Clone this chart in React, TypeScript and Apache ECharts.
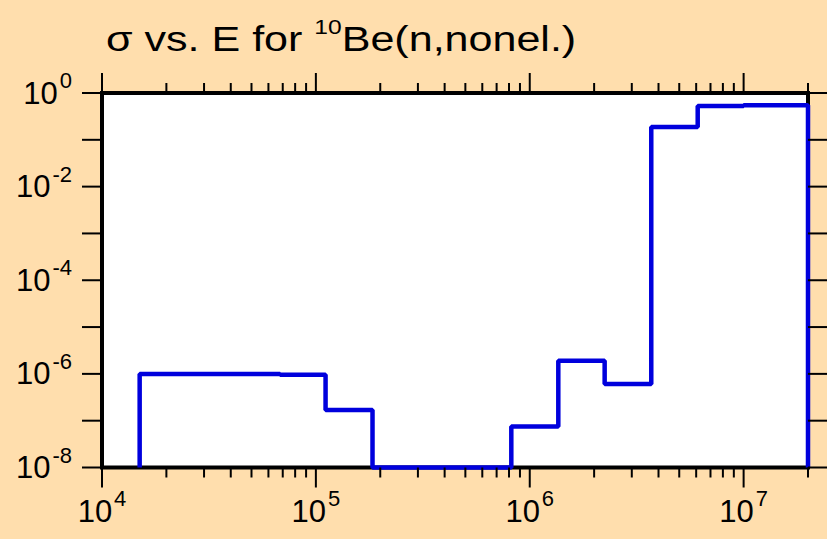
import React, { useEffect, useRef } from "react";
import * as echarts from "echarts";

// Bin edges (eV) and cross-section values (b) for each bin
const binEdges = [1.5e4, 6.8e4, 1.11e5, 1.84e5, 8.2e5, 1.36e6, 2.24e6, 3.7e6, 6.1e6, 1.0e7, 2.0e7];
const binValues = [1.0e-6, 9.6e-7, 1.7e-7, 1.0e-8, 7.5e-8, 1.9e-6, 6.1e-7, 0.187, 0.53, 0.55];

const X_MIN = 1e4;
const X_MAX = 2e7;
const Y_MIN = 1e-8;
const Y_MAX = 1;

// tick values
const xMajorTicks = [1e4, 1e5, 1e6, 1e7];
const xMinorMultipliers = [2, 3, 4, 5, 6, 7, 8, 9];
const yTicks = [1e-8, 1e-7, 1e-6, 1e-5, 1e-4, 1e-3, 1e-2, 1e-1, 1];

const TITLE_MAIN_1 = "σ vs. E for ";
const TITLE_SUP = "10";
const TITLE_MAIN_2 = "Be(n,nonel.)";

const FONT = "'Liberation Sans', Arial, Helvetica, sans-serif";

export default function App() {
  const ref = useRef<HTMLDivElement>(null);

  useEffect(() => {
    document.body.style.margin = "0";
    if (!ref.current) return;
    const chart = echarts.init(ref.current, null, { renderer: "svg" });

    // step line points
    const stepData: number[][] = [[binEdges[0], Y_MIN]];
    for (let i = 0; i < binValues.length; i++) stepData.push([binEdges[i], binValues[i]]);
    stepData.push([binEdges[binEdges.length - 1], binValues[binValues.length - 1]]);
    stepData.push([binEdges[binEdges.length - 1], Y_MIN]);

    const xTickData: number[][] = [];
    xMajorTicks.forEach((t) => {
      xTickData.push([t, Y_MIN, 20]);
      xMinorMultipliers.forEach((m) => {
        const v = t * m;
        if (v <= X_MAX * 1.0001) xTickData.push([v, Y_MIN, 10]);
      });
    });
    const yTickData = yTicks.map((t) => [X_MIN, t, 20]);

    const isPow = (v: number) => Math.abs(Math.log10(v) - Math.round(Math.log10(v))) < 1e-6;
    const labelRich = {
      b: { fontSize: 31, fontFamily: FONT, color: "#000", lineHeight: 47, verticalAlign: "middle" },
      s: { fontSize: 22, fontFamily: FONT, color: "#000", lineHeight: 22, verticalAlign: "top", padding: [0, 0, 0, 2] },
    };

    const tickStyle = { stroke: "#000", lineWidth: 2 };

    chart.setOption({
      animation: false,
      backgroundColor: "#FFDEAD",
      graphic: [
        {
          type: "text",
          x: 106,
          y: 17,
          scaleX: 1.23,
          silent: true,
          style: {
            text: `{a|${TITLE_MAIN_1}}{s|${TITLE_SUP}}{a|${TITLE_MAIN_2}}`,
            rich: {
              a: { fontSize: 35, fontFamily: FONT, fill: "#000", lineHeight: 44, verticalAlign: "middle" },
              s: { fontSize: 20, fontFamily: FONT, fill: "#000", lineHeight: 14, verticalAlign: "top" },
            },
          },
        },
      ],
      grid: {
        left: 102,
        top: 93,
        width: 706,
        height: 374.5,
        show: true,
        backgroundColor: "#fff",
        borderColor: "#000",
        borderWidth: 4,
        outerBoundsMode: "none",
      },
      xAxis: {
        type: "log",
        logBase: 10,
        min: X_MIN,
        max: X_MAX,
        axisLine: { show: false },
        axisTick: { show: false },
        splitLine: { show: false },
        axisLabel: {
          margin: 20,
          formatter: (v: number) => (isPow(v) ? `{b|10}{s|${Math.round(Math.log10(v))}}` : ""),
          rich: labelRich,
          showMinLabel: true,
          showMaxLabel: true,
        },
      },
      yAxis: {
        type: "log",
        logBase: 10,
        min: Y_MIN,
        max: Y_MAX,
        splitNumber: 8,
        axisLine: { show: false },
        axisTick: { show: false },
        splitLine: { show: false },
        axisLabel: {
          margin: 30,
          formatter: (v: number) => {
            if (!isPow(v)) return "";
            const e = Math.round(Math.log10(v));
            return e % 2 === 0 ? `{b|10}{s|${e}}` : "";
          },
          rich: labelRich,
          showMinLabel: true,
          showMaxLabel: true,
        },
      },
      series: [
        {
          type: "line",
          data: stepData,
          step: "end",
          symbol: "none",
          lineStyle: { color: "#0000DD", width: 4.5 },
          clip: false,
          z: 3,
        },
        {
          type: "custom",
          data: xTickData,
          clip: false,
          silent: true,
          z: 4,
          renderItem: (params: any, api: any) => {
            const x = api.value(0);
            const len = api.value(2);
            const b = api.coord([x, Y_MIN]);
            const t = api.coord([x, Y_MAX]);
            return {
              type: "group",
              children: [
                { type: "line", shape: { x1: b[0], y1: b[1], x2: b[0], y2: b[1] + len }, style: tickStyle },
                { type: "line", shape: { x1: t[0], y1: t[1], x2: t[0], y2: t[1] - len }, style: tickStyle },
              ],
            };
          },
        },
        {
          type: "custom",
          data: yTickData,
          clip: false,
          silent: true,
          z: 4,
          renderItem: (params: any, api: any) => {
            const y = api.value(1);
            const len = api.value(2);
            const l = api.coord([X_MIN, y]);
            const r = api.coord([X_MAX, y]);
            return {
              type: "group",
              children: [
                { type: "line", shape: { x1: l[0], y1: l[1], x2: l[0] - len, y2: l[1] }, style: tickStyle },
                { type: "line", shape: { x1: r[0], y1: r[1], x2: r[0] + len, y2: r[1] }, style: tickStyle },
              ],
            };
          },
        },
      ],
    });

    return () => chart.dispose();
  }, []);

  return <div ref={ref} style={{ width: 827, height: 539 }} />;
}
